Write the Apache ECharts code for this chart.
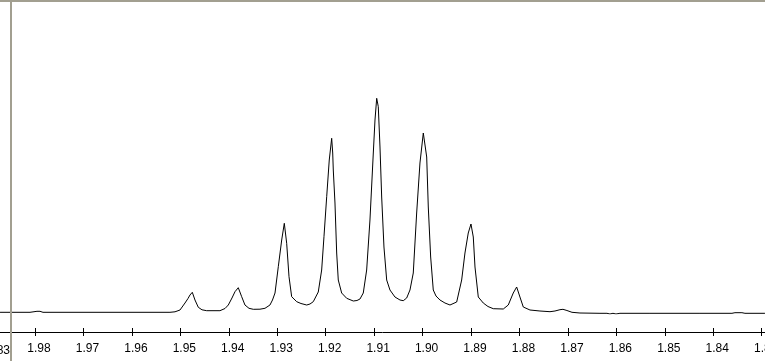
<!DOCTYPE html>
<html>
<head>
<meta charset="utf-8">
<script src="https://cdn.jsdelivr.net/npm/echarts@6/dist/echarts.min.js"></script>
<style>
html,body{margin:0;padding:0;background:#fff;}
#chart{width:765px;height:361px;}
</style>
</head>
<body>
<div id="chart"></div>
<script>
// Chemical shift (ppm)
var shifts = [
1.98722,1.98103,1.97959,1.97897,1.97835,1.96658,1.95626,1.95214,1.95110,1.95007,
1.94904,1.94842,1.94801,1.94753,1.94698,1.94629,1.94553,1.94456,1.94182,1.94078,
1.94010,1.93934,1.93872,1.93804,1.93734,1.93666,1.93583,1.93494,1.93356,1.93253,
1.93150,1.93098,1.93046,1.92978,1.92908,1.92854,1.92805,1.92757,1.92702,1.92598,
1.92510,1.92392,1.92324,1.92256,1.92153,1.92083,1.92035,1.91979,1.91926,1.91876,
1.91855,1.91843,1.91808,1.91773,1.91740,1.91670,1.91566,1.91430,1.91354,1.91292,
1.91224,1.91154,1.91086,1.91017,1.90982,1.90947,1.90914,1.90879,1.90844,1.90797,
1.90741,1.90673,1.90570,1.90466,1.90398,1.90328,1.90260,1.90192,1.90122,1.90054,
1.89985,1.89965,1.89915,1.89882,1.89833,1.89779,1.89723,1.89641,1.89538,1.89434,
1.89296,1.89193,1.89125,1.89057,1.89001,1.88953,1.88918,1.88850,1.88747,1.88650,
1.88541,1.88334,1.88231,1.88128,1.88058,1.87990,1.87921,1.87783,1.87577,1.87370,
1.87267,1.87164,1.87102,1.87020,1.86916,1.86751,1.86338,1.86194,1.86132,1.86070,
1.86008,1.85926,1.85306,1.84274,1.83614,1.83552,1.83408,1.83346,1.82933
];
// Intensity (arbitrary units)
var intensity = [
1.7,1.7,2.7,2.7,1.7,1.7,1.7,1.7,2.2,4,
11,15.5,19,21.7,14,6.7,4.2,3.3,3.3,5.5,
9,16,22.3,26.3,17.3,9,5.7,4.7,4.8,5.7,
9,14,21,47.3,74,90.7,70.7,37.3,17.3,12.3,
10.5,9,10,12.3,22,44,77.3,117.3,154,175.7,
161,144,111,61,34,21,15.7,13,13.5,15,
21,44,94,161,194,215.7,207.3,167,117,67,
34,24,17,14,13.3,16,24,41,101,151,
181,183,157,107,57,24,18,14,11,9,
12,34,61,81,90,77,47,17,11,7.5,
5.3,5,9,21,27,17,7,4,3,2.3,
3,4.3,4.7,3.5,1.7,1,0.7,0.7,0,0.7,
0,0.7,0.7,0.7,0.7,1.3,1.3,0.7,0.7
];
var tickValues = [1.98,1.97,1.96,1.95,1.94,1.93,1.92,1.91,1.90,1.89,1.88,1.87,1.86,1.85,1.84,1.83];
var tickLabels = ['1.98','1.97','1.96','1.95','1.94','1.93','1.92','1.91','1.90','1.89','1.88','1.87','1.86','1.85','1.84','1.83'];
var edgeLabel = '1.983';

var data = shifts.map(function(s, i){ return [s, intensity[i]]; });
var xMin = 1.829319, xMax = 1.987224;
var labelFont = 'Liberation Sans, Arial, sans-serif';

var chart = echarts.init(document.getElementById('chart'), null, {renderer:'canvas'});
chart.setOption({
  animation:false,
  backgroundColor:'#ffffff',
  grid:{left:0, right:0, top:14, bottom:47, containLabel:false, outerBoundsMode:'none'},
  xAxis:[{
    type:'value', position:'bottom', inverse:true, min:xMin, max:xMax, offset:18,
    axisLine:{show:true, onZero:false, lineStyle:{color:'#000', width:1}},
    axisTick:{show:true, inside:false, length:4, customValues:tickValues, lineStyle:{color:'#000'}},
    axisLabel:{show:true, margin:11, customValues:tickValues, color:'#000', fontSize:12,
      fontFamily:labelFont, padding:[0,0,0,8], hideOverlap:false,
      formatter:function(v){ var i = tickValues.indexOf(Math.round(v*100)/100); return i>=0 ? tickLabels[i] : ''; }},
    splitLine:{show:false}
  },{
    type:'value', position:'bottom', inverse:true, min:xMin, max:xMax, offset:18,
    axisLine:{show:false, onZero:false},
    axisTick:{show:true, inside:true, length:4, customValues:tickValues, lineStyle:{color:'#000'}},
    axisLabel:{show:false},
    splitLine:{show:false}
  }],
  yAxis:{type:'value', min:0, max:300, show:false, splitLine:{show:false}},
  series:[{
    type:'line', data:data, xAxisIndex:0, showSymbol:false, smooth:false,
    lineStyle:{color:'#000', width:1}, clip:true, z:2
  }],
  graphic:[
    {type:'text', x:10, y:345, z:50,
      style:{text:edgeLabel, fill:'#000', font:'12px ' + labelFont, textAlign:'right', textVerticalAlign:'top'}},
    {type:'rect', x:0, y:0, z:100, shape:{x:0, y:0, width:765, height:2}, style:{fill:'#a29f90'}},
    {type:'rect', x:0, y:0, z:100, shape:{x:10, y:0, width:2, height:361}, style:{fill:'#a29f90'}}
  ]
});
</script>
</body>
</html>
